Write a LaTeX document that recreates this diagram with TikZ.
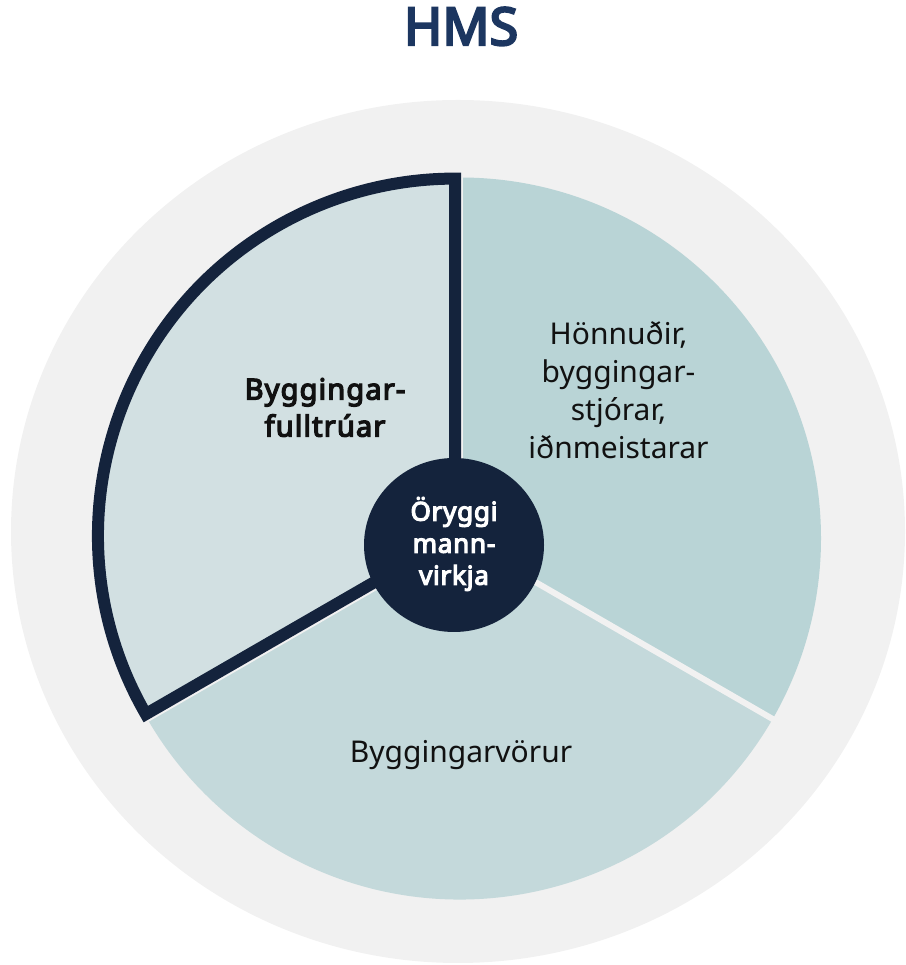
\documentclass[tikz,border=0pt]{standalone}
\usepackage{fontspec}
\setmainfont{Noto Sans}[AutoFakeBold=4.5]
\usetikzlibrary{positioning}

\definecolor{hmsnavy}{HTML}{14233C}
\definecolor{hmstitle}{HTML}{1C3660}
\definecolor{ringgray}{HTML}{F1F1F1}
\definecolor{leftfill}{HTML}{D2E0E2}
\definecolor{rightfill}{HTML}{B9D4D6}
\definecolor{bottomfill}{HTML}{C4D9DB}
\definecolor{inktext}{HTML}{111111}

\tikzset{
  gapline/.style={draw=ringgray, line width=6},
  slicetext/.style={inner sep=0pt, align=center, text=inktext, font=\fontsize{30}{38}\selectfont},
  boldtext/.style={inner sep=0pt, align=center, text=inktext,
    font=\bfseries\fontsize{29}{37}\selectfont\addfontfeatures{LetterSpace=4}},
}

\begin{document}
\begin{tikzpicture}[x=1pt, y=1pt]
           \useasboundingbox (0,0) rectangle (905,965);
           \coordinate (C) at (460,426.5);
           \coordinate (V) at (455,429.4);
           % outer ring
           \fill[ringgray] (458,433.5) ellipse [x radius=447, y radius=431.5];
           % slices
           \fill[rightfill] (C) -- +(90:361) arc[start angle=90, end angle=-30, radius=361] -- cycle;
           \fill[bottomfill] (C) -- +(-30:361) arc[start angle=-30, end angle=-150, radius=361] -- cycle;
           \draw[gapline] (C) -- +(90:370);
           \draw[gapline] (C) -- +(-30:370);
           \draw[gapline] (C) -- +(210:370);
           \filldraw[fill=leftfill, draw=hmsnavy, line width=12, line join=miter]
                (V) -- +(210:357) arc[start angle=210, end angle=90, radius=357] -- cycle;
           % centre
           \fill[hmsnavy] (454,420) ellipse [x radius=90, y radius=87];
           \node [boldtext, text=white, font=\bfseries\fontsize{26}{32}\selectfont\addfontfeatures{LetterSpace=3}]
                (core) at (454,421) {Öryggi\\mann-\\virkja};
           \node [boldtext] (fulltruar) at (325,557.5) {Byggingar-\\fulltrúar};
           \node [slicetext] (honnudir) at (618.5,574.5) {Hönnuðir,\\byggingar-\\stjórar,\\iðnmeistarar};
           \node [slicetext, anchor=base] (vorur) at (461,202) {Byggingarvörur};
           \node [inner sep=0pt, anchor=base, text=hmstitle, font=\bfseries\fontsize{52}{60}\selectfont]
                (hms) at (461,920) {HMS};
      \end{tikzpicture}
\end{document}
